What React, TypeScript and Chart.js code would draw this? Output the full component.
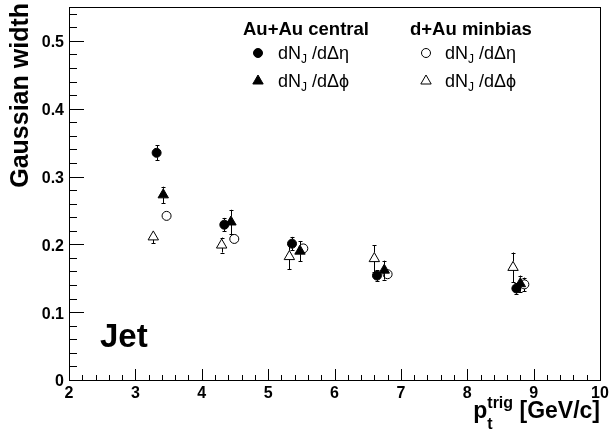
import React, { useEffect, useRef } from 'react';
import { Chart, registerables } from 'chart.js';

Chart.register(...registerables);

const FONT = '"Liberation Sans", Arial, Helvetica, sans-serif';

// ---- data ----
const auauEtaX = [3.32, 4.34, 5.36, 6.64, 8.74];
const auauEtaY = [0.335, 0.229, 0.201, 0.154, 0.135];
const auauEtaErr = [0.011, 0.01, 0.01, 0.008, 0.008];

const auauPhiX = [3.42, 4.44, 5.48, 6.75, 8.8];
const auauPhiY = [0.273, 0.233, 0.19, 0.162, 0.142];
const auauPhiErr = [0.012, 0.018, 0.015, 0.014, 0.012];

const dauEtaX = [3.47, 4.49, 5.53, 6.8, 8.86];
const dauEtaY = [0.242, 0.208, 0.194, 0.156, 0.141];
const dauEtaErr = [0.003, 0.004, 0.005, 0.006, 0.01];

const dauPhiX = [3.27, 4.3, 5.32, 6.6, 8.69];
const dauPhiY = [0.211, 0.199, 0.182, 0.179, 0.166];
const dauPhiErr = [0.009, 0.011, 0.019, 0.02, 0.022];

const xTickValues = [2, 3, 4, 5, 6, 7, 8, 9, 10];
const xTickLabels = ['2', '3', '4', '5', '6', '7', '8', '9', '10'];
const yTickValues = [0, 0.1, 0.2, 0.3, 0.4, 0.5];
const yTickLabels = ['0', '0.1', '0.2', '0.3', '0.4', '0.5'];

const X_MIN = 2;
const X_MAX = 10;
const Y_MIN = 0;
const Y_MAX = 0.55;

type Part = { t: string; size: number; bold?: boolean; dy?: number; keep?: boolean };

function drawRich(ctx: CanvasRenderingContext2D, x: number, y: number, parts: Part[]) {
  let cx = x;
  for (const p of parts) {
    ctx.font = `${p.bold ? 'bold ' : ''}${p.size}px ${FONT}`;
    ctx.fillText(p.t, cx, y + (p.dy || 0));
    if (!p.keep) cx += ctx.measureText(p.t).width;
  }
  return cx - x;
}

function richWidth(ctx: CanvasRenderingContext2D, parts: Part[]) {
  let w = 0;
  for (const p of parts) {
    ctx.font = `${p.bold ? 'bold ' : ''}${p.size}px ${FONT}`;
    if (!p.keep) w += ctx.measureText(p.t).width;
  }
  return w;
}

function drawMarker(ctx: CanvasRenderingContext2D, kind: string, x: number, y: number) {
  ctx.save();
  ctx.strokeStyle = '#000';
  ctx.fillStyle = '#000';
  ctx.lineWidth = 1;
  ctx.beginPath();
  if (kind === 'fc' || kind === 'oc') {
    ctx.arc(x, y, 4.5, 0, Math.PI * 2);
  } else {
    const r = 6;
    ctx.moveTo(x, y - r);
    ctx.lineTo(x + r * Math.sin((2 * Math.PI) / 3), y + r / 2);
    ctx.lineTo(x - r * Math.sin((2 * Math.PI) / 3), y + r / 2);
    ctx.closePath();
  }
  if (kind === 'fc' || kind === 'ft') ctx.fill();
  ctx.stroke();
  ctx.restore();
}

const errorBarsPlugin = {
  id: 'errorBars',
  afterDatasetsDraw(chart: any) {
    const ctx = chart.ctx as CanvasRenderingContext2D;
    const ys = chart.scales.y;
    ctx.save();
    ctx.strokeStyle = '#000';
    ctx.lineWidth = 1;
    chart.data.datasets.forEach((ds: any, di: number) => {
      const meta = chart.getDatasetMeta(di);
      const tri = ds.pointStyle === 'triangle';
      const gapTop = tri ? 6 : 4.5;
      const gapBot = tri ? 3 : 4.5;
      ds.data.forEach((pt: any, i: number) => {
        const el = meta.data[i];
        const px = Math.round(el.x) + 0.5;
        const py = el.y;
        const e = ds.errors[i];
        const yTop = ys.getPixelForValue(pt.y + e);
        const yBot = ys.getPixelForValue(pt.y - e);
        ctx.beginPath();
        if (py - yTop > gapTop + 0.5) {
          ctx.moveTo(px, py - gapTop);
          ctx.lineTo(px, yTop);
          ctx.moveTo(px - 2, Math.round(yTop) + 0.5);
          ctx.lineTo(px + 2, Math.round(yTop) + 0.5);
        }
        if (yBot - py > gapBot + 0.5) {
          ctx.moveTo(px, py + gapBot);
          ctx.lineTo(px, yBot);
          ctx.moveTo(px - 2, Math.round(yBot) + 0.5);
          ctx.lineTo(px + 2, Math.round(yBot) + 0.5);
        }
        ctx.stroke();
      });
    });
    ctx.restore();
  },
};

const framePlugin = {
  id: 'rootFrame',
  afterDraw(chart: any) {
    const ctx = chart.ctx as CanvasRenderingContext2D;
    const { left, right, top, bottom } = chart.chartArea;
    const xs = chart.scales.x;
    const ys = chart.scales.y;
    ctx.save();
    ctx.strokeStyle = '#000';
    ctx.fillStyle = '#000';
    ctx.lineWidth = 1;
    // frame
    ctx.strokeRect(left + 0.5, top + 0.5, right - left, bottom - top);

    // x ticks
    ctx.beginPath();
    for (let v = X_MIN; v <= X_MAX + 1e-9; v += 0.2) {
      const px = Math.round(xs.getPixelForValue(v)) + 0.5;
      const major = Math.abs(v - Math.round(v)) < 1e-6;
      ctx.moveTo(px, bottom);
      ctx.lineTo(px, bottom - (major ? 11 : 5));
    }
    // y ticks
    for (let v = Y_MIN; v <= Y_MAX + 1e-9; v += 0.02) {
      const py = Math.round(ys.getPixelForValue(v)) + 0.5;
      const major = Math.abs(v * 10 - Math.round(v * 10)) < 1e-6;
      ctx.moveTo(left, py);
      ctx.lineTo(left + (major ? 15 : 8), py);
    }
    ctx.stroke();

    // tick labels
    ctx.font = `bold 16px ${FONT}`;
    ctx.textBaseline = 'middle';
    ctx.textAlign = 'right';
    yTickValues.forEach((v, i) => {
      ctx.fillText(yTickLabels[i], left - 5, ys.getPixelForValue(v) + 2);
    });
    ctx.textAlign = 'center';
    ctx.textBaseline = 'top';
    xTickValues.forEach((v, i) => {
      ctx.fillText(xTickLabels[i], xs.getPixelForValue(v), bottom + 6);
    });

    // y title
    ctx.save();
    ctx.translate(28, 3);
    ctx.rotate(-Math.PI / 2);
    ctx.textAlign = 'right';
    ctx.textBaseline = 'alphabetic';
    ctx.font = `bold 25px ${FONT}`;
    ctx.fillText('Gaussian width', 0, 0);
    ctx.restore();

    // x title
    ctx.textAlign = 'left';
    ctx.textBaseline = 'alphabetic';
    const xParts: Part[] = [
      { t: 'p', size: 23, bold: true },
      { t: 't', size: 16, bold: true, dy: 11, keep: true },
      { t: 'trig', size: 16, bold: true, dy: -10 },
      { t: ' [GeV/c]', size: 23, bold: true },
    ];
    const w = richWidth(ctx, xParts);
    drawRich(ctx, 600 - w, 418, xParts);

    // legend headers
    ctx.font = `bold 18.5px ${FONT}`;
    ctx.fillText('Au+Au central', 243, 35);
    ctx.fillText('d+Au minbias', 410, 35);

    const etaParts: Part[] = [
      { t: 'dN', size: 18 },
      { t: 'J', size: 12, dy: 4 },
      { t: ' /dΔη', size: 18 },
    ];
    const phiParts: Part[] = [
      { t: 'dN', size: 18 },
      { t: 'J', size: 12, dy: 4 },
      { t: ' /dΔϕ', size: 18 },
    ];
    drawMarker(ctx, 'fc', 258, 53);
    drawRich(ctx, 278, 59, etaParts);
    drawMarker(ctx, 'ft', 258, 81);
    drawRich(ctx, 278, 87, phiParts);
    drawMarker(ctx, 'oc', 426, 53);
    drawRich(ctx, 445, 59, etaParts);
    drawMarker(ctx, 'ot', 426, 81);
    drawRich(ctx, 445, 87, phiParts);

    // Jet label
    ctx.font = `bold 33px ${FONT}`;
    ctx.fillText('Jet', 100, 347);

    ctx.restore();
  },
};

function mk(xs: number[], ys: number[]) {
  return xs.map((x, i) => ({ x, y: ys[i] })) as any;
}

export default function App() {
  const ref = useRef<HTMLCanvasElement | null>(null);

  useEffect(() => {
    if (!ref.current) return;
    const chart = new Chart(ref.current, {
      type: 'scatter',
      data: {
        datasets: [
          {
            label: 'd+Au dN/dΔη',
            data: mk(dauEtaX, dauEtaY),
            errors: dauEtaErr,
            pointStyle: 'circle',
            pointRadius: 4.5,
            backgroundColor: 'rgba(0,0,0,0)',
            borderColor: '#000',
            borderWidth: 1,
          } as any,
          {
            label: 'd+Au dN/dΔφ',
            data: mk(dauPhiX, dauPhiY),
            errors: dauPhiErr,
            pointStyle: 'triangle',
            pointRadius: 6,
            backgroundColor: 'rgba(0,0,0,0)',
            borderColor: '#000',
            borderWidth: 1,
          } as any,
          {
            label: 'Au+Au dN/dΔη',
            data: mk(auauEtaX, auauEtaY),
            errors: auauEtaErr,
            pointStyle: 'circle',
            pointRadius: 4.5,
            backgroundColor: '#000',
            borderColor: '#000',
            borderWidth: 1,
          } as any,
          {
            label: 'Au+Au dN/dΔφ',
            data: mk(auauPhiX, auauPhiY),
            errors: auauPhiErr,
            pointStyle: 'triangle',
            pointRadius: 6,
            backgroundColor: '#000',
            borderColor: '#000',
            borderWidth: 1,
          } as any,
        ],
      },
      options: {
        animation: false,
        responsive: false,
        devicePixelRatio: 1,
        layout: { padding: { left: 69, top: 1, right: 10, bottom: 61 } },
        scales: {
          x: { type: 'linear', min: X_MIN, max: X_MAX, display: false },
          y: { type: 'linear', min: Y_MIN, max: Y_MAX, display: false },
        },
        plugins: {
          legend: { display: false },
          tooltip: { enabled: false },
        },
      },
      plugins: [errorBarsPlugin, framePlugin],
    });
    return () => chart.destroy();
  }, []);

  return (
    <div style={{ position: 'fixed', left: 0, top: 0, width: 610, height: 441, background: '#fff' }}>
      <canvas ref={ref} width={610} height={441} style={{ display: 'block' }} />
    </div>
  );
}
